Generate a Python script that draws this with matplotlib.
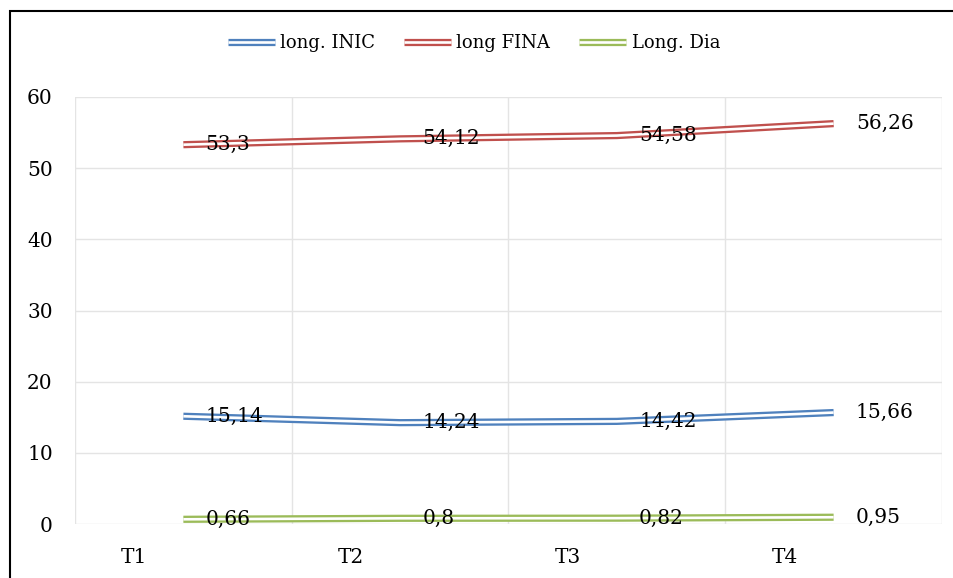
import matplotlib
matplotlib.use("Agg")
import matplotlib.pyplot as plt
import matplotlib.transforms as mtransforms
from matplotlib.patches import Rectangle
from matplotlib.lines import Line2D

categories = ["T1", "T2", "T3", "T4"]
long_inic = [15.14, 14.24, 14.42, 15.66]
long_fina = [53.3, 54.12, 54.58, 56.26]
long_dia = [0.66, 0.8, 0.82, 0.95]
series_names = ["long. INIC", "long FINA", "Long. Dia"]
y_ticks = [0, 10, 20, 30, 40, 50, 60]

def fmt(v):
    s = ("%.2f" % v).rstrip("0").rstrip(".")
    return s.replace(".", ",")

plt.rcParams['font.family'] = ['DejaVu Serif']
FS = 14.5

fig = plt.figure(figsize=(9.54, 5.78), dpi=100)
ax = fig.add_axes([75/954, 1-524/578, (942-75)/954, (524-97)/578])

colors = ["#4F81BD", "#C0504D", "#9BBB59"]
x = list(range(len(categories)))
handles = []
for vals, col, name in zip([long_inic, long_fina, long_dia], colors, series_names):
    ax.plot(x, vals, color=col, lw=5.2, solid_capstyle='butt', solid_joinstyle='round', zorder=3)
    ax.plot(x, vals, color='white', lw=1.9, solid_capstyle='butt', solid_joinstyle='round', zorder=4)
    for xi, v in zip(x, vals):
        ax.annotate(fmt(v), (xi, v), xytext=(16, 0), textcoords='offset points',
                    ha='left', va='center', fontsize=FS, color='black', zorder=5)
    h1 = Line2D([], [], color=col, lw=5.2, solid_capstyle='butt')
    h2 = Line2D([], [], color='white', lw=1.9, solid_capstyle='butt')
    handles.append((h1, h2))

ax.set_xlim(-0.5, len(categories) - 0.5)
ax.set_ylim(0, 60)
ax.set_yticks(y_ticks)
ax.set_xticks(x)
ax.set_xticklabels(categories)
ax.tick_params(axis='both', length=0, labelsize=FS)
ax.tick_params(axis='y', pad=16)
ax.tick_params(axis='x', pad=17)
offset = mtransforms.ScaledTranslation(-49/100, 0, fig.dpi_scale_trans)
for lab in ax.get_xticklabels():
    lab.set_transform(lab.get_transform() + offset)

for s in ax.spines.values():
    s.set_visible(False)
gc = "#E4E4E4"
for yv in y_ticks:
    ax.axhline(yv, color=gc, lw=1, zorder=1)
for xv in [i - 0.5 for i in range(len(categories) + 1)]:
    ax.axvline(xv, color=gc, lw=1, zorder=1)

leg = fig.legend(handles, series_names, loc='center', bbox_to_anchor=(474/954, 1-43/578),
                 ncol=3, frameon=False, fontsize=13, handlelength=2.6,
                 handletextpad=0.3, columnspacing=1.6)

fig.patches.append(Rectangle((10/954, -0.05), 1.0, 1 - 11/578 + 0.05, transform=fig.transFigure,
                             fill=False, edgecolor='black', lw=1.5))

fig.savefig("out.png", dpi=100)
